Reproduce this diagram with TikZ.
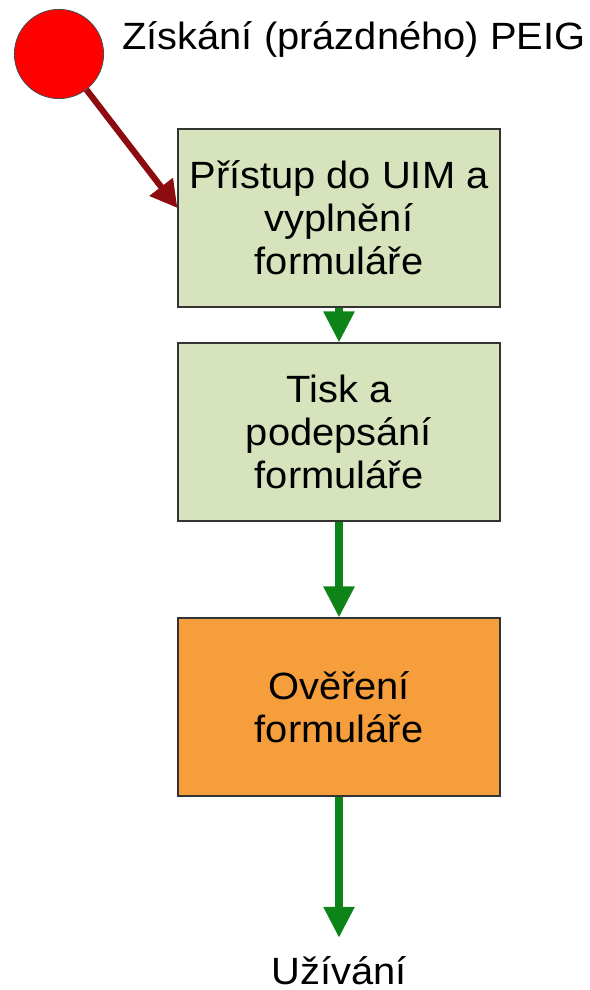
\documentclass[tikz,border=0pt]{standalone}
\usepackage{fontspec}
\setmainfont{Liberation Sans}[FakeStretch=1.05]
\usetikzlibrary{arrows.meta}

\definecolor{boxgreen}{RGB}{215,227,188}
\definecolor{boxorange}{RGB}{247,158,60}
\definecolor{flowgreen}{RGB}{14,132,24}
\definecolor{startred}{RGB}{140,12,16}

\tikzset{step box/.style={draw=black!80,line width=0.8pt,fill=boxgreen,align=center,minimum width=8.05cm,minimum height=4.45cm,inner sep=0pt,font=\fontsize{27}{30.6}\selectfont},
check box/.style={step box,fill=boxorange},
start dot/.style={circle,draw=black!70,line width=0.6pt,fill=red,minimum size=2.23cm,inner sep=0pt},
caption/.style={font=\fontsize{27}{30.6}\selectfont,inner sep=0pt},
flow/.style={draw=flowgreen,line width=5pt,-{Triangle[length=22pt,width=21pt]}},
entry/.style={draw=startred,line width=4.4pt,-{Triangle[length=19pt,width=20pt]}}}

\begin{document}
\begin{tikzpicture}[x=0.025cm,y=-0.025cm]
\useasboundingbox (0,0) rectangle (590,990);

%% Coordinates of nodes.
\coordinate (c0) at (59,54);
\coordinate (c1) at (339,218);
\coordinate (c2) at (339,432);
\coordinate (c3) at (339,707);

%% start and steps
\node [start dot] (start) at (c0) {};
\node [caption,anchor=base west] (gettitle) at (122,50) {Získání (prázdného) PEIG};
\node [step box] (fill) at (c1) {Přístup do UIM a\\vyplnění\\formuláře};
\node [step box] (sign) at (c2) {Tisk a\\podepsání\\formuláře};
\node [check box] (verify) at (c3) {Ověření\\formuláře};
\node [caption,anchor=base] (use) at (339,984) {Užívání};

%% connectors
\draw [entry] (start) -- ([yshift=0.25cm]fill.west);
\draw [flow] (fill.south) -- (sign.north);
\draw [flow] (sign.south) -- (verify.north);
\draw [flow,shorten >=0.45cm] (verify.south) -- (use.north);

\end{tikzpicture}
\end{document}
